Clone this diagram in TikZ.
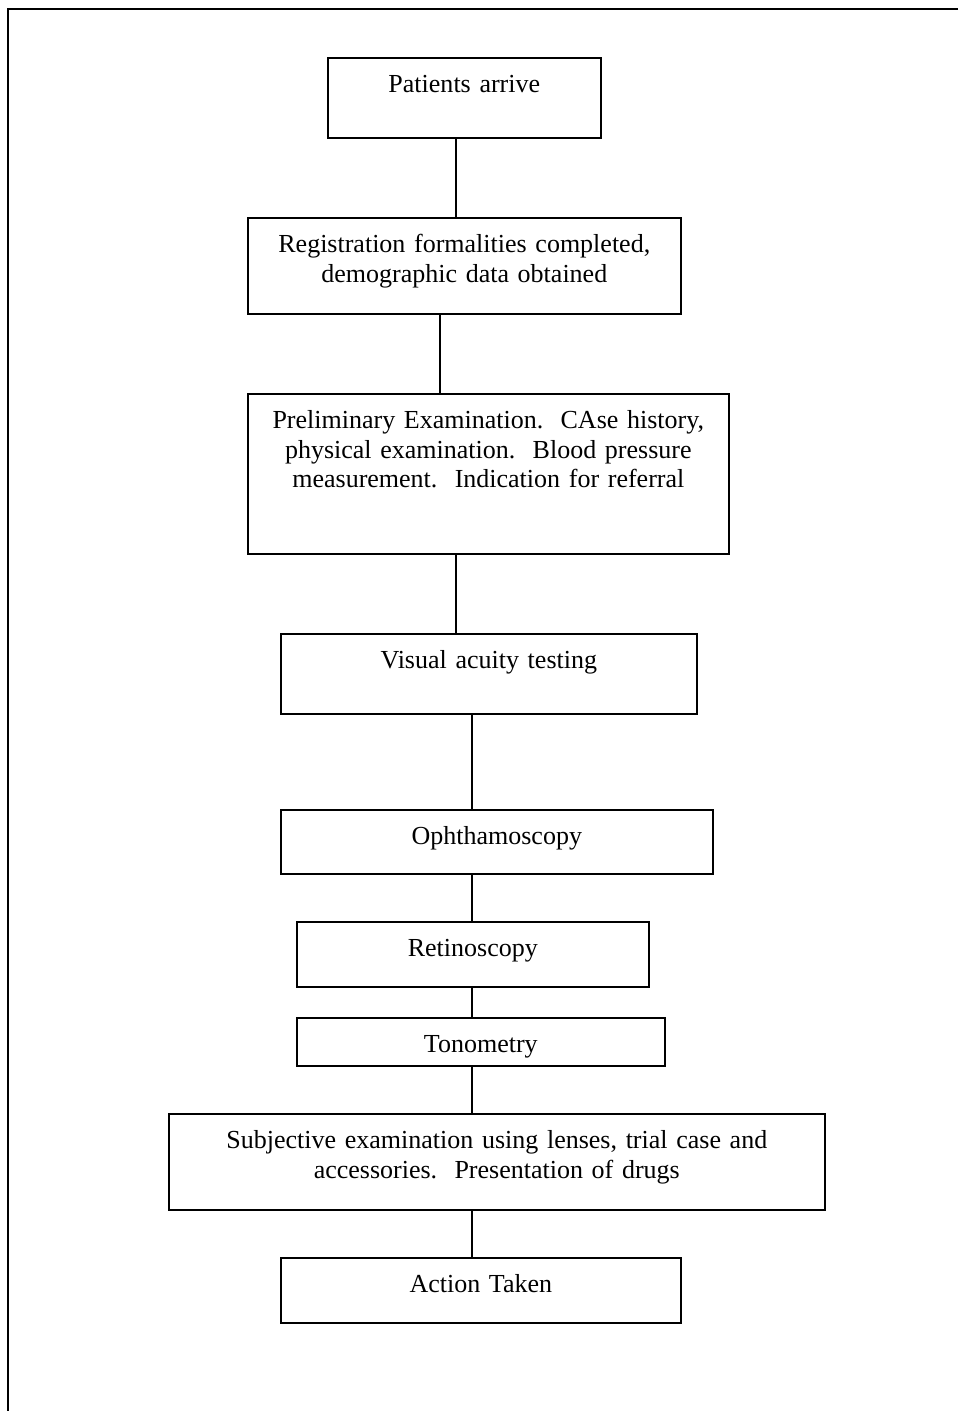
\documentclass[tikz,border=0pt]{standalone}
\usepackage{fontspec}
\setmainfont{Liberation Serif}
\usepackage{tikz}
\usetikzlibrary{positioning,calc}

\begin{document}
\begin{tikzpicture}[
    x=0.5pt, y=-0.5pt,
    stage/.style={rectangle, draw=black, line width=0.8pt, inner sep=0pt,
                  anchor=north west, align=center, text height=17.5pt,
                  font=\fontsize{13}{14.75}\selectfont, text=black},
    link/.style={draw=black, line width=0.8pt},
    frame/.style={draw=black, line width=1pt},
]
\useasboundingbox (0,0) rectangle (958,1411);

% ── Page frame ──
\coordinate (frameTR) at (958,9.5);
\coordinate (frameTL) at (7.5,9.5);
\coordinate (frameBL) at (7.5,1411);
\draw[frame] (frameTR) -- (frameTL) -- (frameBL);

% ── Stages ──
\node[stage, text width=136.5pt, text depth=22.5pt] (patients) at (327,57)
    {Patients arrive};
\node[stage, text width=216.5pt, text depth=30.5pt] (registration) at (247,217)
    {Registration formalities completed,\\ demographic data obtained};
\node[stage, text width=240.5pt, text depth=62.5pt] (prelim) at (247,393)
    {Preliminary Examination.~~CAse history,\\ physical examination.~~Blood pressure\\ measurement.~~Indication for referral};
\node[stage, text width=208pt, text depth=22.5pt] (acuity) at (280,633)
    {Visual acuity testing};
\node[stage, text width=216pt, text depth=14.5pt] (ophtha) at (280,809)
    {Ophthamoscopy};
\node[stage, text width=176pt, text depth=15pt] (retino) at (296,921)
    {Retinoscopy};
\node[stage, text width=184pt, text depth=6.5pt] (tono) at (296,1017)
    {Tonometry};
\node[stage, text width=328pt, text depth=30.5pt] (subjective) at (168,1113)
    {Subjective examination using lenses, trial case and\\ accessories.~~Presentation of drugs};
\node[stage, text width=200pt, text depth=15pt] (action) at (280,1257)
    {Action Taken};

% ── Connector columns ──
\coordinate (colA) at (456,0);
\coordinate (colB) at (440,0);
\coordinate (colC) at (472,0);

% ── Connectors ──
\draw[link] (patients.south -| colA) -- (registration.north -| colA);
\draw[link] (registration.south -| colB) -- (prelim.north -| colB);
\draw[link] (prelim.south -| colA) -- (acuity.north -| colA);
\draw[link] (acuity.south -| colC) -- (ophtha.north -| colC);
\draw[link] (ophtha.south -| colC) -- (retino.north -| colC);
\draw[link] (retino.south -| colC) -- (tono.north -| colC);
\draw[link] (tono.south -| colC) -- (subjective.north -| colC);
\draw[link] (subjective.south -| colC) -- (action.north -| colC);

\end{tikzpicture}
\end{document}
